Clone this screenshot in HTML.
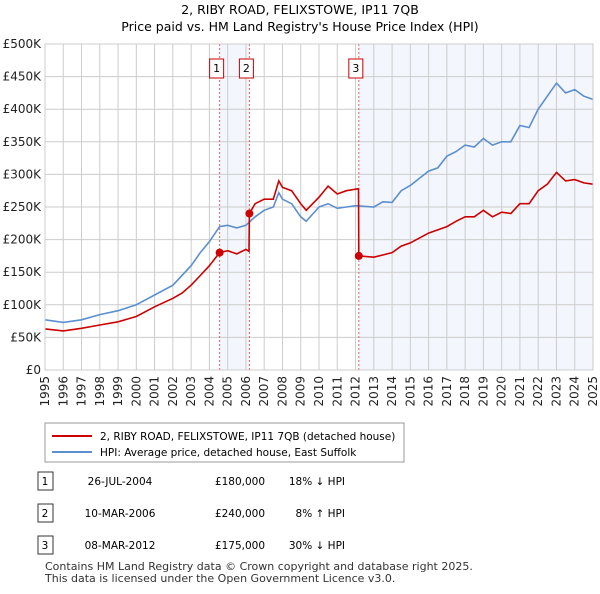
<!DOCTYPE html>
<html><head><meta charset="utf-8"><style>
body{margin:0;background:#fff;font-family:"DejaVu Sans","Liberation Sans",sans-serif;}
svg text{font-family:"DejaVu Sans","Liberation Sans",sans-serif;}
</style></head><body>
<svg width="600" height="590" xmlns="http://www.w3.org/2000/svg">
<text x="300" y="14" text-anchor="middle" font-size="12.5">2, RIBY ROAD, FELIXSTOWE, IP11 7QB</text>
<text x="300" y="31" text-anchor="middle" font-size="12.5">Price paid vs. HM Land Registry's House Price Index (HPI)</text>
<g id="plot"></g>
<g>
<rect x="45" y="423" width="359" height="39" fill="#fff" stroke="#999"/>
<line x1="52" y1="436" x2="92" y2="436" stroke="#cc0000" stroke-width="2"/>
<text x="100" y="440" font-size="10.5">2, RIBY ROAD, FELIXSTOWE, IP11 7QB (detached house)</text>
<line x1="52" y1="452" x2="92" y2="452" stroke="#5b8fd0" stroke-width="2"/>
<text x="100" y="456" font-size="10.5">HPI: Average price, detached house, East Suffolk</text>
</g>
<g id="table" font-size="10.5"></g>
<text x="45" y="570" font-size="11" fill="#333">Contains HM Land Registry data © Crown copyright and database right 2025.</text>
<text x="45" y="582" font-size="11" fill="#333">This data is licensed under the Open Government Licence v3.0.</text>
</svg>
<script>
const hpiYears=[1995,1996,1997,1998,1999,2000,2001,2002,2003,2003.5,2004,2004.56,2005,2005.5,2006,2006.5,2007,2007.5,2007.8,2008,2008.5,2009,2009.3,2010,2010.5,2011,2011.5,2012,2013,2013.5,2014,2014.5,2015,2016,2016.5,2017,2017.5,2018,2018.5,2019,2019.5,2020,2020.5,2021,2021.5,2022,2022.5,2023,2023.5,2024,2024.5,2025];
const hpiValues=[77,73,77,85,91,100,115,130,160,180,197,220,222,218,222,235,245,250,272,262,255,235,228,250,255,248,250,252,250,258,257,275,283,305,310,328,335,345,342,355,345,350,350,375,372,400,420,440,425,430,420,415];
const priceYears=[1995,1996,1997,1998,1999,2000,2001,2002,2002.5,2003,2003.5,2004,2004.56,2005,2005.5,2006,2006.17,2006.19,2006.5,2007,2007.5,2007.8,2008,2008.5,2009,2009.3,2010,2010.5,2011,2011.5,2012.16,2012.18,2013,2014,2014.5,2015,2016,2017,2017.5,2018,2018.5,2019,2019.5,2020,2020.5,2021,2021.5,2022,2022.5,2023,2023.5,2024,2024.5,2025];
const priceValues=[63,60,64,69,74,82,97,110,118,130,145,160,180,183,178,185,182,240,255,262,262,290,280,275,255,245,265,282,270,275,278,175,173,180,190,195,210,220,228,235,235,245,235,242,240,255,255,275,285,303,290,292,287,285];
const saleYears=[2004.56,2006.19,2012.18];
const saleValues=[180,240,175];
const saleLabels=["1","2","3"];
const saleDates=["26-JUL-2004","10-MAR-2006","08-MAR-2012"];
const salePrices=["£180,000","£240,000","£175,000"];
const saleHpi=["18% ↓ HPI","8% ↑ HPI","30% ↓ HPI"];
const yTicks=[0,50,100,150,200,250,300,350,400,450,500];
const yTickLabels=["£0","£50K","£100K","£150K","£200K","£250K","£300K","£350K","£400K","£450K","£500K"];
const xTicks=[1995,1996,1997,1998,1999,2000,2001,2002,2003,2004,2005,2006,2007,2008,2009,2010,2011,2012,2013,2014,2015,2016,2017,2018,2019,2020,2021,2022,2023,2024,2025];

const X0=45,X1=593,Y0=370,Y1=44;
const xs=y=>X0+(y-1995)/30*(X1-X0);
const ys=v=>Y0-v/500*(Y0-Y1);
const NS="http://www.w3.org/2000/svg";
const plot=document.getElementById('plot');
function mk(tag,attrs,parent){const e=document.createElementNS(NS,tag);for(const k in attrs)e.setAttribute(k,attrs[k]);(parent||plot).appendChild(e);return e;}
let s1=mk('rect',{x:xs(saleYears[0]),y:Y1,width:xs(saleYears[1])-xs(saleYears[0]),height:Y0-Y1,fill:'#eef2fb',opacity:0.7});


let s2=mk('rect',{x:xs(saleYears[2]),y:Y1,width:X1-xs(saleYears[2]),height:Y0-Y1,fill:'#eef2fb',opacity:0.7});


yTicks.forEach((t,i)=>{
 let l=mk('line',{x1:X0,x2:X1,y1:ys(t),y2:ys(t),stroke:'#cccccc','stroke-width':1});
 
 
 let tx=mk('text',{x:X0-4,y:ys(t)+4,'text-anchor':'end','font-size':12,fill:'#222'});
 tx.textContent=yTickLabels[i];
 
 
});
xTicks.forEach(t=>{
 let l=mk('line',{x1:xs(t),x2:xs(t),y1:Y1,y2:Y0,stroke:'#cccccc','stroke-width':1});
 
 
 let tx=mk('text',{x:0,y:0,'text-anchor':'end','font-size':12,fill:'#222',transform:`translate(${xs(t)+4},${Y0+6}) rotate(-90)`});
 tx.textContent=t;
 
 
});
saleYears.forEach((y,i)=>{
 let l=mk('line',{x1:xs(y),x2:xs(y),y1:Y1,y2:Y0,stroke:'#e06060','stroke-width':1,'stroke-dasharray':'2,2'});
 
 
 let bx=xs(y)-3;
 let r=mk('rect',{x:bx-7,y:59,width:14,height:19,fill:'#fff',stroke:'#cc0000'});
 
 
 let tx=mk('text',{x:bx,y:72,'text-anchor':'middle','font-size':11});
 tx.textContent=saleLabels[i];
 
 
});
function path(xa,va,color,name){
 let d=xa.map((y,i)=>(i?'L':'M')+xs(y).toFixed(1)+','+ys(va[i]).toFixed(1)).join('');
 let p=mk('path',{d:d,fill:'none',stroke:color,'stroke-width':1.6});
 
 
}
path(hpiYears,hpiValues,'#5b8fd0','hpi-line');
path(priceYears,priceValues,'#cc0000','price-line');
saleYears.forEach((y,i)=>{
 let c=mk('circle',{cx:xs(y),cy:ys(saleValues[i]),r:4,fill:'#cc0000'});
 
 
});
let ax=mk('rect',{x:X0,y:Y1,width:X1-X0,height:Y0-Y1,fill:'none',stroke:'#cccccc'});


const tbl=document.getElementById('table');
[481,513,545].forEach((ry,i)=>{
 let r=mk('rect',{x:38,y:ry-9,width:15,height:18,fill:'#fff',stroke:'#333'},tbl);
 
 
 const cells=[[45,saleLabels[i],'middle'],[120,saleDates[i],'middle'],[240,salePrices[i],'middle'],[345,saleHpi[i],'end']];
 cells.forEach(c=>{
  let t=mk('text',{x:c[0],y:ry+4,'text-anchor':c[2],'font-size':10.5},tbl);
  t.textContent=c[1];
  
  
 });
});
</script>
</body></html>
